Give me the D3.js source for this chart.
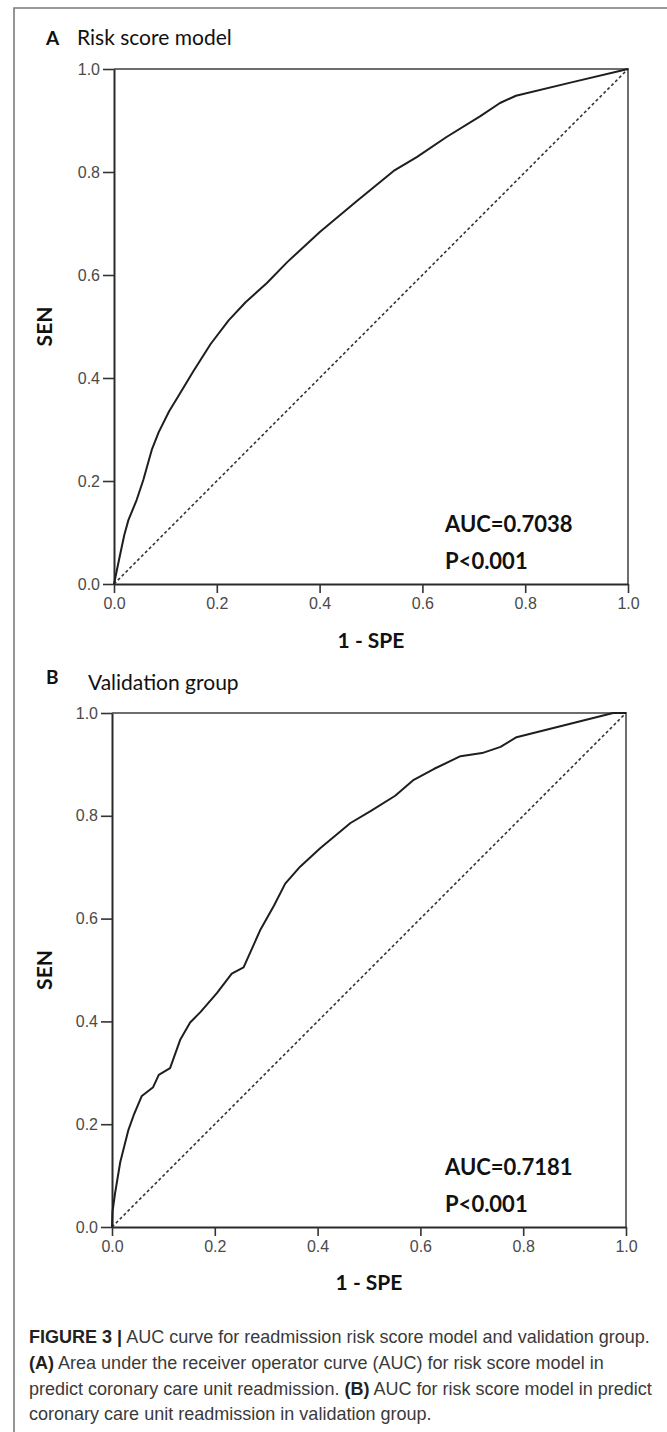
<!DOCTYPE html>
<html lang="en">
<head>
    <meta charset="UTF-8">
    <title>ROC curves | Figure 3</title>
    <script src="https://d3js.org/d3.v7.min.js"></script>
    <style>
        body {
            margin: 0;
            background: #ffffff;
        }
        svg {
            display: block;
        }
    </style>
</head>
<body>

    <div id="container"></div>

    <script>

        // ticks used on both axes
        const tickValues = [0, 0.2, 0.4, 0.6, 0.8, 1.0];

        // panel A: risk score model (1 - SPE, SEN)
        const riskX = [0, 0.011, 0.02, 0.028, 0.044, 0.057, 0.074, 0.087, 0.107, 0.123, 0.155, 0.188, 0.223, 0.256, 0.298, 0.337, 0.401, 0.472, 0.544, 0.589, 0.647, 0.712, 0.751, 0.782, 0.89, 1.0];
        const riskY = [0, 0.053, 0.095, 0.124, 0.163, 0.202, 0.262, 0.295, 0.335, 0.361, 0.414, 0.466, 0.512, 0.547, 0.585, 0.625, 0.684, 0.743, 0.802, 0.829, 0.868, 0.908, 0.934, 0.948, 0.974, 1.0];

        // panel B: validation group
        const validX = [0, 0.001, 0.006, 0.016, 0.032, 0.042, 0.058, 0.080, 0.091, 0.113, 0.133, 0.152, 0.172, 0.204, 0.233, 0.256, 0.289, 0.315, 0.337, 0.366, 0.405, 0.464, 0.503, 0.551, 0.587, 0.626, 0.678, 0.720, 0.756, 0.787, 0.975, 1.0];
        const validY = [0, 0.03, 0.066, 0.126, 0.189, 0.217, 0.255, 0.272, 0.296, 0.309, 0.365, 0.398, 0.418, 0.455, 0.493, 0.505, 0.579, 0.625, 0.668, 0.701, 0.737, 0.786, 0.809, 0.839, 0.870, 0.891, 0.916, 0.922, 0.934, 0.953, 1.0, 1.0];

        // reference diagonal
        const diagX = [0, 1];
        const diagY = [0, 1];

        const panelLetters = ['A', 'B'];
        const panelTitles = ['Risk score model', 'Validation group'];
        const aucLabels = ['AUC=0.7038', 'AUC=0.7181'];
        const pLabels = ['P<0.001', 'P<0.001'];

        const captionLines = [
            [['FIGURE 3 |', true], [' AUC curve for readmission risk score model and validation group.', false]],
            [['(A)', true], [' Area under the receiver operator curve (AUC) for risk score model in', false]],
            [['predict coronary care unit readmission. ', false], ['(B)', true], [' AUC for risk score model in predict', false]],
            [['coronary care unit readmission in validation group.', false]]
        ];

        const width = 667;
        const height = 1432;

        const svg = d3.select('#container')
            .append('svg')
            .attr('width', width)
            .attr('height', height);

        // outer frame (only top and left edges are inside the picture)
        svg.append('path')
            .attr('d', 'M14,' + height + 'V8H' + width)
            .attr('fill', 'none')
            .attr('stroke', '#7a7a7a')
            .attr('stroke-width', 1.6);

        // one layout object per panel
        const panels = [
            {left: 114, top: 69, w: 514, h: 515, titleX: 77, titleY: 45, letterY: 45, xs: riskX, ys: riskY},
            {left: 112, top: 713, w: 514, h: 514, titleX: 88, titleY: 690, letterY: 684, xs: validX, ys: validY}
        ];

        // style the d3 axis output
        function styleAxis(g) {
            g.select('.domain')
                .attr('stroke', '#2a2a2a')
                .attr('stroke-width', 2);
            g.selectAll('.tick line')
                .attr('stroke', '#333')
                .attr('stroke-width', 1.6);
            g.selectAll('.tick text')
                .attr('font-family', '"Liberation Sans Narrow", "Liberation Sans", Arial, sans-serif')
                .attr('font-size', 16)
                .attr('fill', '#4a4a4a');
        }

        panels.forEach(function(p, i) {

            const x = d3.scaleLinear().domain([0, 1]).range([p.left, p.left + p.w]);
            const y = d3.scaleLinear().domain([0, 1]).range([p.top + p.h, p.top]);

            // header
            svg.append('text')
                .attr('x', 46)
                .attr('y', p.letterY)
                .attr('font-family', 'Lato, "Open Sans", sans-serif')
                .attr('font-weight', 'bold')
                .attr('font-size', 19)
                .attr('fill', '#111')
                .text(panelLetters[i]);

            svg.append('text')
                .attr('x', p.titleX)
                .attr('y', p.titleY)
                .attr('font-family', 'Lato, "Open Sans", sans-serif')
                .attr('font-size', 21)
                .attr('fill', '#111')
                .text(panelTitles[i]);

            // top and right frame
            svg.append('path')
                .attr('d', 'M' + x(0) + ',' + y(1) + 'H' + x(1) + 'V' + y(0))
                .attr('fill', 'none')
                .attr('stroke', '#6e6e6e')
                .attr('stroke-width', 2);

            // axes
            svg.append('g')
                .attr('transform', 'translate(0,' + y(0) + ')')
                .call(d3.axisBottom(x)
                    .tickValues(tickValues)
                    .tickFormat(d3.format('.1f'))
                    .tickSize(9)
                    .tickSizeOuter(0)
                    .tickPadding(5))
                .call(styleAxis);

            svg.append('g')
                .attr('transform', 'translate(' + x(0) + ',0)')
                .call(d3.axisLeft(y)
                    .tickValues(tickValues)
                    .tickFormat(d3.format('.1f'))
                    .tickSize(11)
                    .tickSizeOuter(0)
                    .tickPadding(3))
                .call(styleAxis);

            // axis titles
            svg.append('text')
                .attr('x', x(0.5))
                .attr('y', y(0) + 64 + (i === 0 ? 0 : -1))
                .attr('text-anchor', 'middle')
                .attr('font-family', 'Lato, "Open Sans", sans-serif')
                .attr('font-weight', 'bold')
                .attr('font-size', 21)
                .attr('fill', '#111')
                .text('1 - SPE');

            svg.append('text')
                .attr('transform', 'translate(52,' + y(0.5) + ') rotate(-90)')
                .attr('text-anchor', 'middle')
                .attr('font-family', 'Lato, "Open Sans", sans-serif')
                .attr('font-weight', 'bold')
                .attr('font-size', 21)
                .attr('fill', '#111')
                .text('SEN');

            // diagonal reference
            const diag = diagX.map(function(d, k) { return [d, diagY[k]]; });
            svg.append('path')
                .datum(diag)
                .attr('d', d3.line().x(function(d) { return x(d[0]); }).y(function(d) { return y(d[1]); }))
                .attr('fill', 'none')
                .attr('stroke', '#333')
                .attr('stroke-width', 1.6)
                .attr('stroke-dasharray', '3,2.5');

            // ROC curve
            const pts = p.xs.map(function(d, k) { return [d, p.ys[k]]; });
            svg.append('path')
                .datum(pts)
                .attr('d', d3.line().x(function(d) { return x(d[0]); }).y(function(d) { return y(d[1]); }))
                .attr('fill', 'none')
                .attr('stroke', '#1e1e1e')
                .attr('stroke-width', 2)
                .attr('stroke-linejoin', 'round');

            // AUC annotation
            svg.append('text')
                .attr('x', 445)
                .attr('y', y(0) - 52)
                .attr('font-family', 'Lato, "Open Sans", sans-serif')
                .attr('font-weight', 'bold')
                .attr('font-size', 22)
                .attr('fill', '#111')
                .text(aucLabels[i]);

            svg.append('text')
                .attr('x', 445)
                .attr('y', y(0) - 15)
                .attr('font-family', 'Lato, "Open Sans", sans-serif')
                .attr('font-weight', 'bold')
                .attr('font-size', 22)
                .attr('fill', '#111')
                .text(pLabels[i]);
        });

        // caption
        const captionBase = [1343, 1369, 1395, 1420];
        const caption = svg.append('g')
            .attr('font-family', '"Liberation Sans", Arial, sans-serif')
            .attr('font-size', 17)
            .attr('fill', '#3a3a3a');

        captionLines.forEach(function(line, i) {
            const t = caption.append('text')
                .attr('x', 29)
                .attr('y', captionBase[i])
                .attr('xml:space', 'preserve');
            line.forEach(function(part) {
                t.append('tspan')
                    .attr('font-weight', part[1] ? 'bold' : 'normal')
                    .attr('fill', part[1] ? '#222' : '#3a3a3a')
                    .text(part[0]);
            });
        });

        // fit caption size so that the third line ends near x = 652
        const third = caption.selectAll('text').nodes()[2];
        const w3 = third.getComputedTextLength();
        caption.attr('font-size', 17 * 623 / w3);

    </script>

</body>
</html>
